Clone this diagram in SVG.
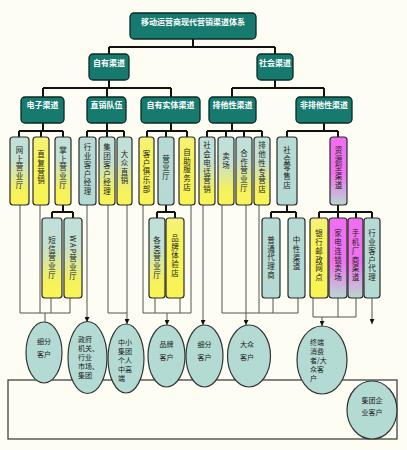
<svg xmlns="http://www.w3.org/2000/svg" width="407" height="450" viewBox="0 0 407 450">
<defs>
<linearGradient id="gTY" x1="0" y1="0" x2="0" y2="1"><stop offset="0" stop-color="#bfe0da"/><stop offset="0.35" stop-color="#c4e0d2"/><stop offset="0.8" stop-color="#f6f25a"/><stop offset="1" stop-color="#f8f458"/></linearGradient>
<linearGradient id="gY" x1="0" y1="0" x2="0" y2="1"><stop offset="0" stop-color="#f6f27a"/><stop offset="0.3" stop-color="#f7f35a"/><stop offset="1" stop-color="#f8f455"/></linearGradient>
<linearGradient id="gT" x1="0" y1="0" x2="0" y2="1"><stop offset="0" stop-color="#b7dad4"/><stop offset="1" stop-color="#b4dbd3"/></linearGradient>
<linearGradient id="gM" x1="0" y1="0" x2="0" y2="1"><stop offset="0" stop-color="#f06ef0"/><stop offset="0.55" stop-color="#ef72ee"/><stop offset="1" stop-color="#b9d8d2"/></linearGradient>
<marker id="arr" viewBox="0 0 10 10" refX="10" refY="5" markerWidth="5" markerHeight="5" orient="auto"><path d="M0,0 L10,5 L0,10 z" fill="#111"/></marker>
<style>
.h{fill:#167a6f;stroke:#0c2a26;stroke-width:1.3}
.ht{font-family:"Noto Sans CJK SC","Noto Sans",sans-serif;font-size:8px;font-weight:bold;fill:#fff;text-anchor:middle}
.b{stroke:#2a2a2a;stroke-width:1.2}
.vt{font-family:"Noto Sans CJK SC","Noto Sans",sans-serif;font-size:7.5px;fill:#222;writing-mode:vertical-rl;text-anchor:middle;letter-spacing:1.2px}
.c1{fill:none;stroke:#111;stroke-width:2}
.c2{fill:none;stroke:#555;stroke-width:1}
.ca{fill:none;stroke:#555;stroke-width:1;marker-end:url(#arr)}
.e{fill:#b3dbd3;stroke:#333;stroke-width:1.2}
.et{font-family:"Noto Sans CJK SC","Noto Sans",sans-serif;font-size:7px;fill:#222}
</style>
</defs>
<rect width="407" height="450" fill="#fdfdf3"/>

<g id="connectors">
<path class="c1" d="M193,39V47M109,47H275M109,47V54M275,47V54"/>
<path class="c1" d="M109,80V88M43,88H171M43,88V97M107,88V97M171,88V97"/>
<path class="c1" d="M275,80V88M232,88H324M232,88V97M324,88V97"/>
<path class="c1" d="M43,123V131M19,131H63M19,131V137M41,131V137M63,131V137"/>
<path class="c1" d="M107,123V131M87,131H124M87,131V137M107,131V137M124,131V137"/>
<path class="c1" d="M171,123V131M147,131H187M147,131V137M166,131V137M187,131V137"/>
<path class="c1" d="M232,123V131M207,131H262M207,131V137M226,131V137M244,131V137M262,131V137"/>
<path class="c1" d="M324,123V131M287,131H338M287,131V137M338,131V137"/>
<path class="c1" d="M63,205V212M52,212H73M52,212V218M73,212V218"/>
<path class="c1" d="M166,205V212M157,212H175M157,212V218M175,212V218"/>
<path class="c1" d="M287,205V212M271,212H296M271,212V218M296,212V218"/>
<path class="c1" d="M338,205V212M319,212H372M319,212V218M338,212V218M356,212V218M372,212V218"/>
<path class="c2" d="M20,205V313M40,205V313M51,298V313M70,298V313M20,313H70M45,313V322"/>
<path class="ca" d="M87,205V322"/>
<path class="c2" d="M108,205V313H127"/>
<path class="ca" d="M127,205V324"/>
<path class="c2" d="M143,205V313M155,298V313M180,298V313M191,205V313M143,313H191"/>
<path class="ca" d="M167,313V325"/>
<path class="ca" d="M203,205V325"/>
<path class="c2" d="M222,205V313M259,205V313M273,298V313M298,298V313M222,313H298"/>
<path class="ca" d="M246,205V325"/>
<path class="c2" d="M313,298V317M338,298V317M356,298V317M313,317H356"/>
<path class="ca" d="M322,317V326"/>
<path class="ca" d="M372,298V324"/>
<rect x="8" y="380" width="389" height="59" fill="none" stroke="#333" stroke-width="1.2"/>
</g>

<g id="n-root"><rect class="h" x="130" y="13" width="126" height="26" rx="4"/><text class="ht" x="193" y="25">移动运营商现代营销渠道体系</text></g>
<g id="n-ziyou"><rect class="h" x="89" y="54" width="40" height="26" rx="4"/><text class="ht" x="109" y="66">自有渠道</text></g>
<g id="n-shehui"><rect class="h" x="257" y="54" width="36" height="26" rx="4"/><text class="ht" x="275" y="66">社会渠道</text></g>
<g id="n-dianzi"><rect class="h" x="21" y="97" width="43" height="26" rx="4"/><text class="ht" x="42.5" y="108">电子渠道</text></g>
<g id="n-zhixiao"><rect class="h" x="87" y="97" width="39" height="26" rx="4"/><text class="ht" x="106.5" y="108">直销队伍</text></g>
<g id="n-shiti"><rect class="h" x="141" y="97" width="59" height="26" rx="4"/><text class="ht" x="170.5" y="108">自有实体渠道</text></g>
<g id="n-paita"><rect class="h" x="209" y="97" width="47" height="26" rx="4"/><text class="ht" x="232.5" y="108">排他性渠道</text></g>
<g id="n-feipaita"><rect class="h" x="296" y="97" width="56" height="26" rx="4"/><text class="ht" x="324" y="108">非排他性渠道</text></g>

<g id="n-wangshang"><rect class="b" fill="url(#gTY)" x="10" y="137" width="19" height="68" rx="3"/><text class="vt" x="19.5" y="168">网上营业厅</text></g>
<g id="n-zhifu"><rect class="b" fill="url(#gY)" x="33" y="137" width="16" height="68" rx="3"/><text class="vt" x="41" y="168">直复营销</text></g>
<g id="n-zhangshang"><rect class="b" fill="url(#gTY)" x="55" y="137" width="16" height="68" rx="3"/><text class="vt" x="63" y="168">掌上营业厅</text></g>
<g id="n-hangyejl"><rect class="b" fill="url(#gT)" x="79" y="137" width="17" height="68" rx="3"/><text class="vt" x="87.5" y="170">行业客户经理</text></g>
<g id="n-jituanjl"><rect class="b" fill="url(#gTY)" x="99" y="137" width="16" height="68" rx="3"/><text class="vt" x="107" y="170">集团客户经理</text></g>
<g id="n-dazhong"><rect class="b" fill="url(#gTY)" x="117" y="137" width="15" height="68" rx="3"/><text class="vt" x="124.5" y="168">大众直销</text></g>
<g id="n-julebu"><rect class="b" fill="url(#gY)" x="139" y="137" width="15" height="68" rx="3"/><text class="vt" x="146.5" y="172">客户俱乐部</text></g>
<g id="n-yingyeting"><rect class="b" fill="url(#gT)" x="158" y="137" width="16" height="68" rx="3"/><text class="vt" x="166" y="168">营业厅</text></g>
<g id="n-zizhu"><rect class="b" fill="url(#gY)" x="179" y="137" width="16" height="68" rx="3"/><text class="vt" x="187" y="170">自助服务店</text></g>
<g id="n-dianhua"><rect class="b" fill="url(#gTY)" x="199" y="137" width="16" height="68" rx="3"/><text class="vt" x="207" y="168">社会电话营销</text></g>
<g id="n-maichang"><rect class="b" fill="url(#gTY)" x="218" y="137" width="16" height="68" rx="3"/><text class="vt" x="226" y="161">卖场</text></g>
<g id="n-hezuo"><rect class="b" fill="url(#gTY)" x="236" y="137" width="16" height="68" rx="3"/><text class="vt" x="244" y="171">合作营业厅</text></g>
<g id="n-zhuanying"><rect class="b" fill="url(#gTY)" x="254" y="137" width="16" height="68" rx="3"/><text class="vt" x="262" y="168">排他性专营店</text></g>
<g id="n-lingshou"><rect class="b" fill="url(#gT)" x="277" y="137" width="20" height="68" rx="3"/><text class="vt" x="287" y="168">社会零售店</text></g>
<g id="n-ziyuan"><rect class="b" fill="url(#gM)" x="330" y="137" width="17" height="68" rx="3"/><text class="vt" x="338.5" y="168">资源型渠道</text></g>

<g id="n-duanxin"><rect class="b" fill="url(#gTY)" x="42" y="218" width="20" height="80" rx="3"/><text class="vt" x="52" y="258">短信营业厅</text></g>
<g id="n-wap"><rect class="b" fill="url(#gTY)" x="64" y="218" width="18" height="80" rx="3"/><text class="vt" x="73" y="258">WAP营业厅</text></g>
<g id="n-gelei"><rect class="b" fill="url(#gTY)" x="149" y="218" width="16" height="80" rx="3"/><text class="vt" x="157" y="258">各类营业厅</text></g>
<g id="n-pinpai"><rect class="b" fill="url(#gY)" x="166" y="218" width="18" height="80" rx="3"/><text class="vt" x="175" y="256">品牌体验店</text></g>
<g id="n-putong"><rect class="b" fill="url(#gT)" x="262" y="218" width="18" height="80" rx="3"/><text class="vt" x="271" y="258">普通代理商</text></g>
<g id="n-zhongxing"><rect class="b" fill="url(#gT)" x="288" y="218" width="17" height="80" rx="3"/><text class="vt" x="296.5" y="254">中性渠道</text></g>
<g id="n-yinhang"><rect class="b" fill="url(#gY)" x="310" y="218" width="18" height="80" rx="3"/><text class="vt" x="319" y="256">银行邮政网点</text></g>
<g id="n-jiadian"><rect class="b" fill="url(#gM)" x="329" y="218" width="18" height="80" rx="3"/><text class="vt" x="338" y="256">家电连锁卖场</text></g>
<g id="n-shouji"><rect class="b" fill="url(#gM)" x="348" y="218" width="15" height="80" rx="3"/><text class="vt" x="355.5" y="256">手机厂商渠道</text></g>
<g id="n-hangyedl"><rect class="b" fill="url(#gT)" x="364" y="218" width="16" height="80" rx="3"/><text class="vt" x="372" y="256">行业客户代理</text></g>

<g id="c-xifen1"><ellipse class="e" cx="44" cy="352.5" rx="18" ry="30.5"/><text class="et" text-anchor="middle"><tspan x="44" y="344">细分</tspan><tspan x="44" y="357">客户</tspan></text></g>
<g id="c-zhengfu"><ellipse class="e" cx="87.5" cy="357.5" rx="19.5" ry="36"/><text class="et"><tspan x="78" y="342">政府</tspan><tspan x="78" y="351">机关、</tspan><tspan x="78" y="360">行业</tspan><tspan x="78" y="369">市场、</tspan><tspan x="78" y="378">集团</tspan></text></g>
<g id="c-zhongxiao"><ellipse class="e" cx="126" cy="358.5" rx="18" ry="34.5"/><text class="et"><tspan x="118" y="345">中小</tspan><tspan x="118" y="354">集团</tspan><tspan x="118" y="363">个人</tspan><tspan x="118" y="372">中高</tspan><tspan x="118" y="381">端</tspan></text></g>
<g id="c-pinpai"><ellipse class="e" cx="166.5" cy="356" rx="18.5" ry="31"/><text class="et" text-anchor="middle"><tspan x="166.5" y="347">品牌</tspan><tspan x="166.5" y="360">客户</tspan></text></g>
<g id="c-xifen2"><ellipse class="e" cx="204.5" cy="356" rx="18.5" ry="31"/><text class="et" text-anchor="middle"><tspan x="204.5" y="347">细分</tspan><tspan x="204.5" y="360">客户</tspan></text></g>
<g id="c-dazhong"><ellipse class="e" cx="249" cy="356" rx="21.5" ry="31"/><text class="et" text-anchor="middle"><tspan x="247" y="347">大众</tspan><tspan x="247" y="360">客户</tspan></text></g>
<g id="c-zhongduan"><ellipse class="e" cx="322" cy="360" rx="25" ry="34"/><text class="et"><tspan x="310" y="345">终端</tspan><tspan x="310" y="354">消费</tspan><tspan x="310" y="363">者/大</tspan><tspan x="310" y="372">众客</tspan><tspan x="310" y="381">户</tspan></text></g>
<g id="c-jituan"><ellipse class="e" cx="372" cy="410" rx="25" ry="29"/><text class="et" text-anchor="middle"><tspan x="372" y="403">集团企</tspan><tspan x="372" y="415">业客户</tspan></text></g>
</svg>
